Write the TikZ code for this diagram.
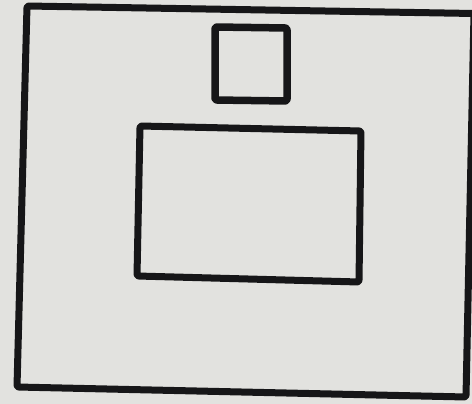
\documentclass[tikz,border=0pt]{standalone}
\definecolor{paper}{RGB}{226,226,223}
\definecolor{ink}{RGB}{22,22,24}
\begin{document}
\begin{tikzpicture}[x=1pt,y=-1pt,
  frame/.style={draw=ink,line width=7pt,line join=round,rounded corners=2pt}]
\fill[paper] (0,0) rectangle (472,404);
\useasboundingbox (0,0) rectangle (472,404);
% outer frame
\draw[frame] (27,6) -- (474,13.5) -- (466,397) -- (17,387) -- cycle;
% small square
\draw[frame,line width=7.5pt] (215,27) -- (287,28) -- (287,101) -- (215,100) -- cycle;
% inner rectangle
\draw[frame] (140,126) -- (361,131) -- (359,282) -- (137,276) -- cycle;
\end{tikzpicture}
\end{document}
